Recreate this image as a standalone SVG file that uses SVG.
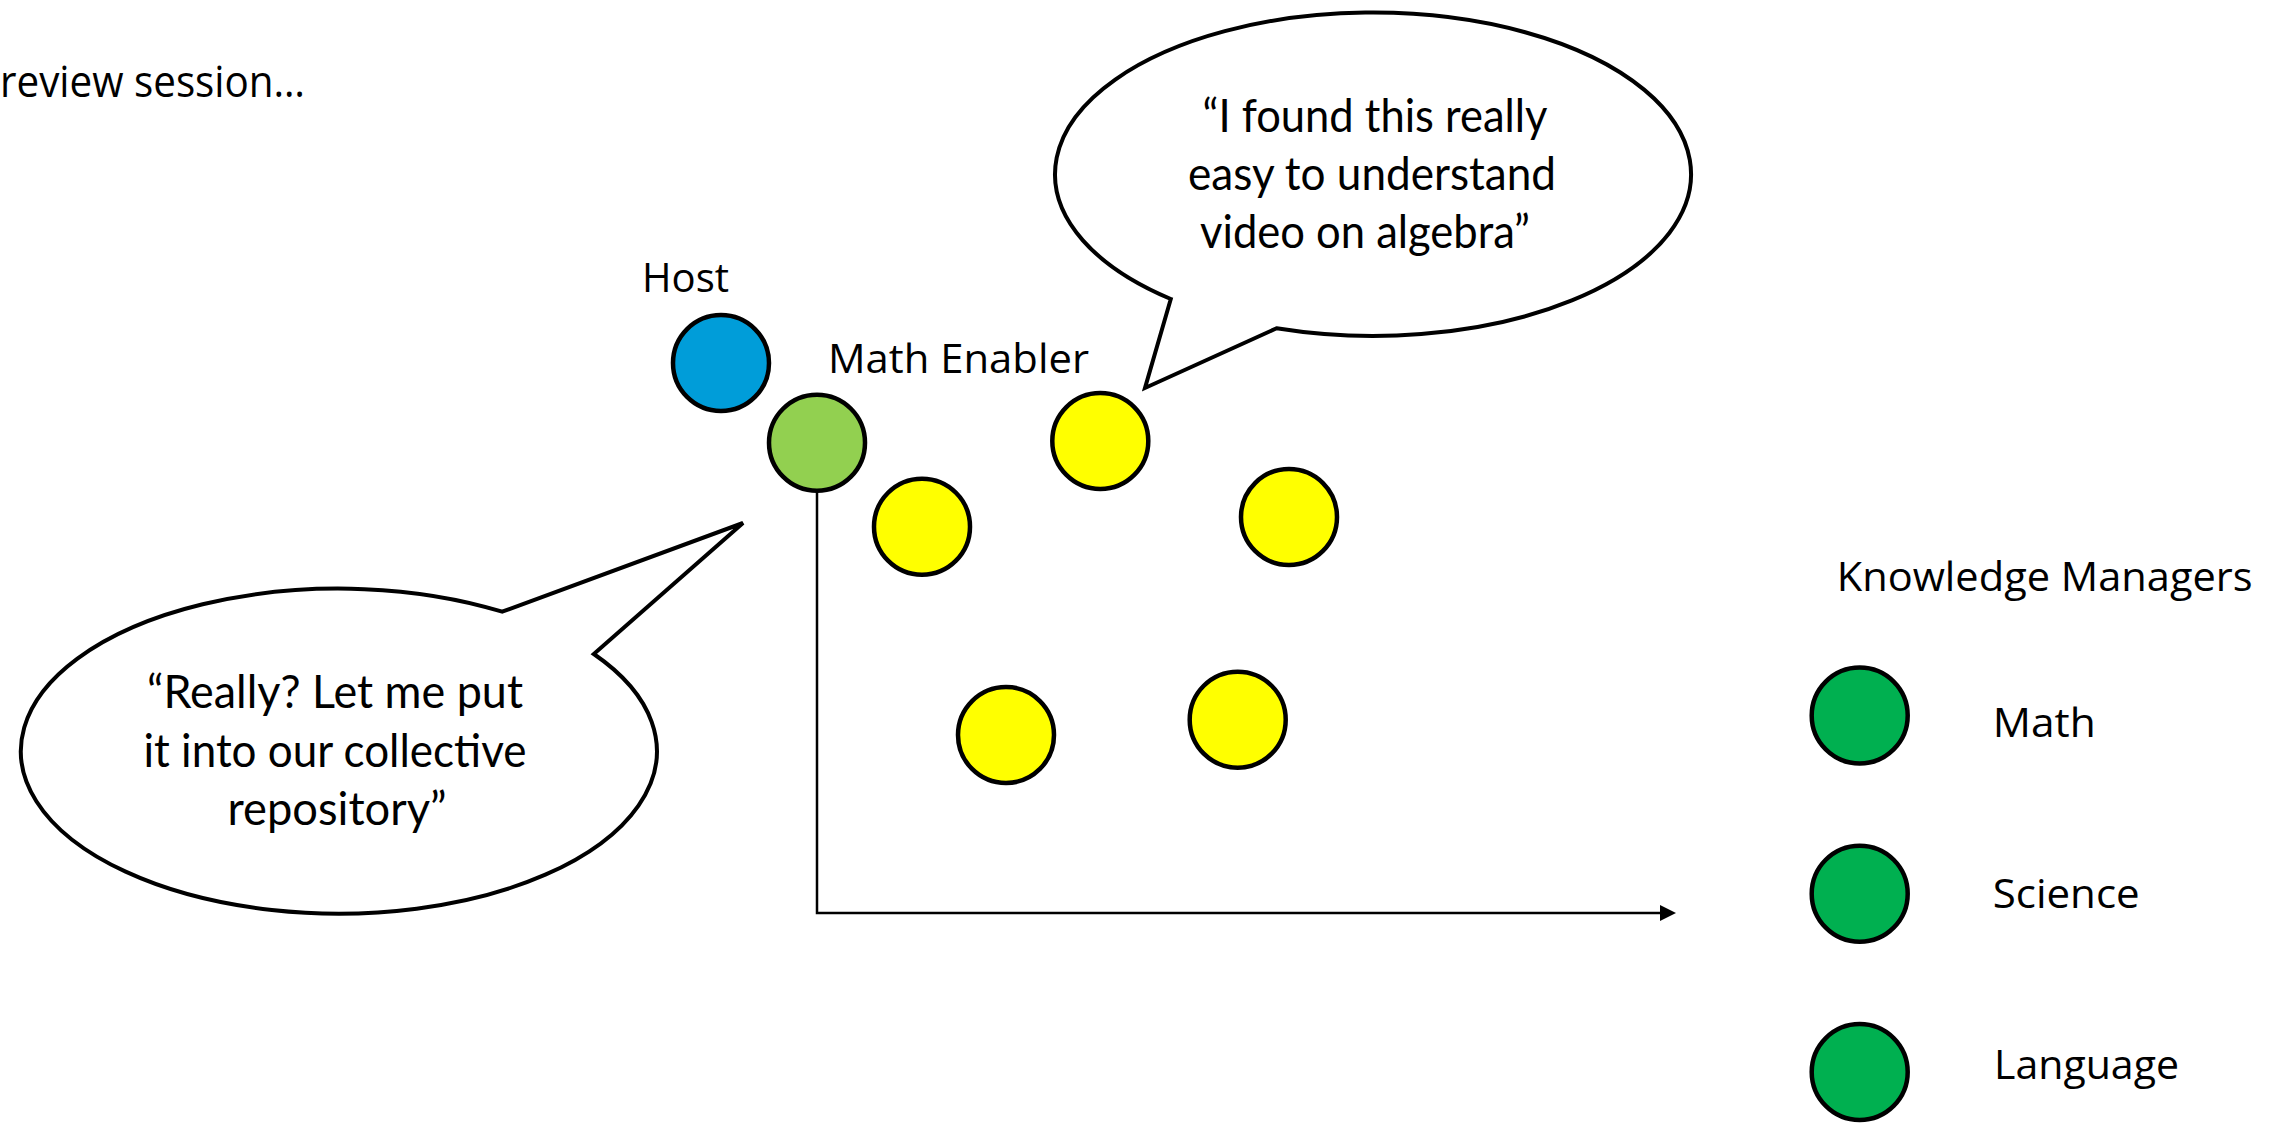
<svg xmlns="http://www.w3.org/2000/svg" width="2280" height="1123" viewBox="0 0 2280 1123">
<style>
.bg{fill:#ffffff}
.node{stroke:#000;stroke-width:4.5}
.host{fill:#009DD9}
.enabler{fill:#92D050}
.member{fill:#FFFF00}
.km{fill:#00B050}
.bubble{fill:#fff;stroke:#000;stroke-width:4;stroke-linejoin:miter}
.lbl{font-family:"Open Sans","Noto Sans","Liberation Sans",sans-serif;font-size:41px;fill:#000}
.quote{font-family:Lato,"Open Sans","Liberation Sans",sans-serif;font-size:46px;fill:#000;text-anchor:middle}
.conn{fill:none;stroke:#000;stroke-width:2.5}
</style>
<defs>
<marker id="arrow" markerUnits="userSpaceOnUse" markerWidth="16" markerHeight="16" refX="0" refY="8" orient="auto">
<path d="M0,0 L16,8 L0,16 Z" fill="#000"/>
</marker>
</defs>
<rect class="bg" x="0" y="0" width="2280" height="1123"/>
<text class="lbl" x="0" y="97" style="font-size:44px" textLength="305" lengthAdjust="spacingAndGlyphs">review session…</text>
<g id="connectors">
<path class="conn" d="M817,443 V913 H1660" marker-end="url(#arrow)"/>
</g>
<g id="bubble-repository">
<path class="bubble" d="M502.2,611.7 L743,523 L593.8,654 A318,162.5 0 1 1 502.2,611.7 Z"/>
<text class="quote" x="335" y="708" textLength="376" lengthAdjust="spacingAndGlyphs">“Really? Let me put</text>
<text class="quote" x="335" y="766.5" textLength="383" lengthAdjust="spacingAndGlyphs">it into our collective</text>
<text class="quote" x="337" y="825" textLength="219" lengthAdjust="spacingAndGlyphs">repository”</text>
</g>
<g id="bubble-video">
<path class="bubble" d="M1276.6,328.3 A318,161.7 0 1 0 1170.8,299 L1145,388 Z"/>
<text class="quote" x="1375" y="131.5" textLength="345" lengthAdjust="spacingAndGlyphs">“I found this really</text>
<text class="quote" x="1372" y="190" textLength="368" lengthAdjust="spacingAndGlyphs">easy to understand</text>
<text class="quote" x="1365" y="247.5" textLength="330" lengthAdjust="spacingAndGlyphs">video on algebra”</text>
</g>
<g id="host">
<circle class="node host" cx="721" cy="363" r="48"/>
<text class="lbl" x="642" y="291.5" textLength="87" lengthAdjust="spacingAndGlyphs">Host</text>
</g>
<g id="math-enabler">
<circle class="node enabler" cx="817" cy="442.7" r="48"/>
<text class="lbl" x="828" y="372.7" textLength="261" lengthAdjust="spacingAndGlyphs">Math Enabler</text>
</g>
<g id="member-1"><circle class="node member" cx="1100.3" cy="441" r="48"/></g>
<g id="member-2"><circle class="node member" cx="922" cy="526.7" r="48"/></g>
<g id="member-3"><circle class="node member" cx="1289" cy="517" r="48"/></g>
<g id="member-4"><circle class="node member" cx="1006" cy="735" r="48"/></g>
<g id="member-5"><circle class="node member" cx="1237.7" cy="719.7" r="48"/></g>
<g id="knowledge-managers">
<text class="lbl" x="1836.7" y="591" textLength="416" lengthAdjust="spacingAndGlyphs">Knowledge Managers</text>
</g>
<g id="km-math">
<circle class="node km" cx="1859.7" cy="715.5" r="48"/>
<text class="lbl" x="1992.7" y="736.7" textLength="103" lengthAdjust="spacingAndGlyphs">Math</text>
</g>
<g id="km-science">
<circle class="node km" cx="1859.7" cy="893.7" r="48"/>
<text class="lbl" x="1992.7" y="908" textLength="147" lengthAdjust="spacingAndGlyphs">Science</text>
</g>
<g id="km-language">
<circle class="node km" cx="1859.7" cy="1072" r="48"/>
<text class="lbl" x="1994" y="1079" textLength="185" lengthAdjust="spacingAndGlyphs">Language</text>
</g>
</svg>
